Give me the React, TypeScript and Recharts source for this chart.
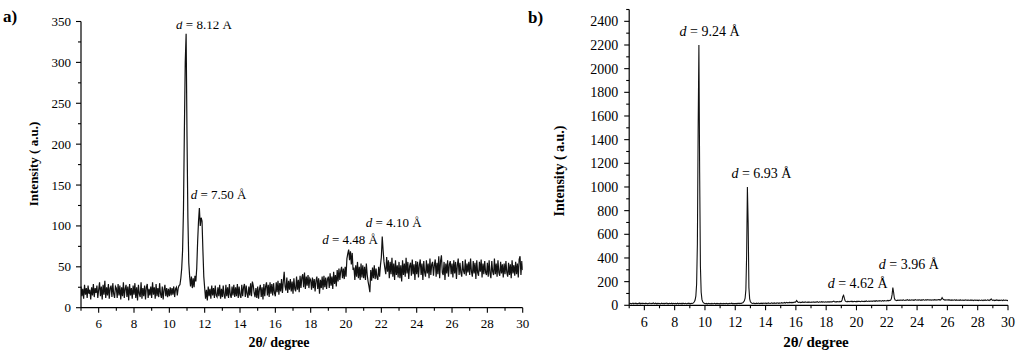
import React from 'react';
import { ComposedChart, Line, XAxis, YAxis, Scatter } from 'recharts';

// 2θ grid: 5.00 .. 30.00, step 0.05
const START = 5;
const STEP = 0.05;

// Panel a) intensities (a.u.), one row per degree (20 samples), last = 30.00
const intensityA: number[] = [
  26,14,23,11,28,16,24,12,27,17,22,10,25,15,29,13,24,18,27,12,
  22,31,14,26,10,28,16,33,12,25,15,29,11,24,27,13,30,17,12,26,
  24,12,29,15,27,10,25,14,31,12,23,28,13,26,9,29,15,24,11,27,
  16,30,12,25,9,28,17,13,31,11,24,14,27,10,25,29,12,23,15,26,
  12,31,16,25,11,29,14,24,13,30,17,12,26,10,22,28,14,24,13,23,
  14,25,15,24,16,26,13,23,25,15,24,27,28,36,48,70,120,215,300,335,
  210,110,55,38,26,38,24,36,25,39,32,48,80,105,122,100,110,106,70,38,
  24,11,22,9,26,14,23,11,27,15,24,12,27,15,13,25,14,28,11,23,
  13,27,15,11,28,14,25,12,29,16,12,26,15,28,13,25,14,29,12,26,
  15,12,28,14,25,29,13,27,17,12,26,15,30,14,32,27,18,13,24,12,
  26,11,23,28,13,25,10,29,14,26,31,15,28,13,31,17,29,15,30,18,
  14,31,19,33,16,30,20,35,18,32,44,26,21,37,18,33,22,35,20,32,
  17,36,23,20,38,22,34,19,39,24,37,41,25,43,23,38,27,40,24,36,
  34,22,37,24,35,20,33,38,23,36,17,34,24,38,22,39,25,37,23,35,
  38,24,42,27,38,23,44,29,40,26,46,32,48,34,45,50,36,48,35,50,
  38,60,66,71,58,69,53,67,46,49,34,52,38,56,36,50,34,54,37,52,
  36,50,34,54,40,32,26,19,46,33,49,36,52,35,48,37,34,50,38,52,
  62,87,70,56,48,41,62,44,58,36,56,41,61,38,54,34,58,40,52,37,
  56,36,52,32,58,40,54,38,61,42,56,35,51,55,39,59,41,53,34,57,
  41,56,37,52,59,40,54,34,57,43,38,58,42,54,36,60,40,53,56,39,
  52,59,38,55,41,63,36,57,64,43,40,56,34,54,42,58,38,53,57,41,
  54,37,58,42,56,35,52,60,40,55,43,38,57,45,41,59,39,54,43,56,
  40,60,44,38,57,42,55,35,58,43,39,56,44,59,37,54,41,57,43,40,
  55,38,58,42,36,57,44,40,60,41,54,38,58,43,39,56,42,53,37,54,
  41,57,43,38,55,40,53,36,58,42,52,39,56,41,54,37,59,63,40,57,
  46,
];

// Panel b) intensities (a.u.)
const intensityB: number[] = [
  18,14,17,12,16,19,13,15,18,14,16,12,17,15,19,13,16,18,14,17,
  15,13,18,16,12,17,14,19,15,13,17,16,20,14,15,18,13,16,14,17,
  16,12,15,18,14,17,13,16,15,19,14,16,12,17,15,14,18,13,16,15,
  14,17,13,16,18,12,15,17,14,16,13,18,15,14,17,16,12,15,18,14,
  16,13,17,15,18,22,30,45,80,180,520,1480,2200,1120,330,110,50,30,22,17,
  15,13,16,12,14,17,13,15,12,16,14,13,15,17,12,14,16,13,15,12,
  14,16,13,15,12,17,14,13,16,15,12,14,17,13,15,18,14,16,13,15,
  14,17,13,16,15,18,14,17,16,19,22,28,38,60,130,420,1000,700,150,55,
  30,22,18,16,19,15,17,14,18,16,15,19,14,17,16,18,15,19,16,17,
  18,15,19,16,20,17,15,18,21,16,19,17,20,18,16,21,19,17,20,18,
  19,22,18,21,20,24,19,22,25,21,23,20,26,22,24,21,25,23,27,24,
  30,40,32,26,24,27,23,26,25,28,24,27,25,29,26,24,28,25,27,26,
  25,28,26,29,24,27,28,26,30,27,25,29,28,26,30,27,29,28,26,30,
  28,27,30,29,27,31,28,30,29,33,36,30,28,31,29,32,30,28,33,31,
  32,45,75,85,60,38,32,30,33,31,34,30,32,35,31,33,30,34,32,31,
  33,31,35,32,34,30,33,36,32,34,31,35,33,37,34,32,36,33,35,34,
  36,33,38,35,37,34,39,36,35,38,36,40,37,35,39,38,36,40,38,37,
  39,41,38,42,40,44,55,90,150,110,60,45,42,40,43,41,44,42,45,43,
  44,42,46,43,41,45,43,47,44,42,46,44,43,47,45,42,46,44,48,45,
  43,46,44,47,45,42,46,44,48,45,43,47,46,44,48,45,47,43,46,44,
  45,47,44,48,46,43,47,45,49,46,48,44,52,65,55,48,46,44,47,45,
  46,43,47,44,45,42,46,44,43,47,45,42,46,44,43,45,42,46,44,43,
  45,42,44,41,46,43,45,42,44,43,41,45,42,44,40,43,45,42,44,41,
  43,40,44,42,41,45,43,40,44,42,45,41,43,46,42,44,41,50,54,45,
  42,44,40,43,41,45,42,44,39,43,41,44,42,40,45,43,41,44,42,40,
  42,
];

const xTicks = [5,6,7,8,9,10,11,12,13,14,15,16,17,18,19,20,21,22,23,24,25,26,27,28,29,30];
const xLabels = [6,8,10,12,14,16,18,20,22,24,26,28,30];
const yTicksA = [0,25,50,75,100,125,150,175,200,225,250,275,300,325,350];
const yLabelsA = [0,50,100,150,200,250,300,350];
const yTicksB = [0,100,200,300,400,500,600,700,800,900,1000,1100,1200,1300,1400,1500,1600,1700,1800,1900,2000,2100,2200,2300,2400,2500];
const yLabelsB = [0,200,400,600,800,1000,1200,1400,1600,1800,2000,2200,2400];

// d-spacing annotations (anchor at label centre / baseline, data coords)
const peakLabelsA = [
  { x: 11.96, y: 340.8, d: '8.12' },
  { x: 12.79, y: 132.9, d: '7.50' },
  { x: 20.23, y: 77.9, d: '4.48' },
  { x: 22.70, y: 98.7, d: '4.10' },
];
const peakLabelsB = [
  { x: 10.30, y: 2276, d: '9.24' },
  { x: 13.73, y: 1076, d: '6.93' },
  { x: 20.08, y: 146, d: '4.62' },
  { x: 23.45, y: 307, d: '3.96' },
];

const SERIF = '"Liberation Serif", "Times New Roman", Times, serif';

const toData = (vals: number[]) =>
  vals.map((v, i) => ({ x: Math.round((START + i * STEP) * 100) / 100, y: v }));

const dataA = toData(intensityA);
const dataB = toData(intensityB);

const makeYTick = (labels: number[], fontSize: number, gap: number) => (props: any) => {
  const { x, y, payload } = props;
  const major = labels.includes(payload.value);
  return (
    <g>
      <line x1={x} x2={x - (major ? 5 : 3)} y1={y} y2={y} stroke="#000" strokeWidth={1.1} />
      {major && (
        <text x={x - gap} y={y} dy="0.35em" textAnchor="end" fontSize={fontSize} fontFamily={SERIF} fill="#000">
          {payload.value}
        </text>
      )}
    </g>
  );
};

const makeXTick = (fontSize: number, off: number) => (props: any) => {
  const { x, y, payload } = props;
  const major = xLabels.includes(payload.value);
  return (
    <g>
      <line x1={x} x2={x} y1={y} y2={y + (major ? 5 : 3)} stroke="#000" strokeWidth={1.1} />
      {major && (
        <text x={x} y={y + off} textAnchor="middle" fontSize={fontSize} fontFamily={SERIF} fill="#000">
          {payload.value}
        </text>
      )}
    </g>
  );
};

const makeLabelShape = (fontSize: number) => (props: any) => {
  const { cx, cy, payload } = props;
  return (
    <text x={cx} y={cy} textAnchor="middle" fontSize={fontSize} fontFamily={SERIF} fill="#000">
      <tspan fontStyle="italic">d</tspan>
      {' = ' + payload.d + ' Å'}
    </text>
  );
};

const txt = (s: string, style: React.CSSProperties) => (
  <div
    style={{
      position: 'absolute',
      whiteSpace: 'nowrap',
      fontFamily: SERIF,
      fontWeight: 'bold',
      color: '#000',
      lineHeight: 1,
      ...style,
    }}
  >
    {s}
  </div>
);

export default function App() {
  return (
    <div style={{ position: 'absolute', left: 0, top: 0, width: 1024, height: 357, background: '#fff', overflow: 'hidden' }}>
      <div style={{ position: 'absolute', left: 0, top: 0 }}>
        <ComposedChart width={540} height={357} data={dataA} margin={{ top: 21.5, right: 17.3, bottom: 19.3, left: 0 }}>
          <XAxis
            dataKey="x"
            type="number"
            domain={[5, 30]}
            ticks={xTicks}
            interval={0}
            allowDataOverflow
            height={30}
            tickSize={0}
            tickMargin={0}
            tickLine={false}
            axisLine={{ stroke: '#000', strokeWidth: 1.2 }}
            tick={makeXTick(13, 20)}
          />
          <YAxis
            type="number"
            domain={[0, 350]}
            ticks={yTicksA}
            interval={0}
            allowDataOverflow
            width={81}
            tickSize={0}
            tickMargin={0}
            tickLine={false}
            axisLine={{ stroke: '#000', strokeWidth: 1.2 }}
            tick={makeYTick(yLabelsA, 13, 10)}
          />
          <Line dataKey="y" type="linear" dot={false} stroke="#111" strokeWidth={1.2} isAnimationActive={false} />
          <Scatter data={peakLabelsA} dataKey="y" shape={makeLabelShape(13)} isAnimationActive={false} />
        </ComposedChart>
      </div>
      <div style={{ position: 'absolute', left: 540, top: 0 }}>
        <ComposedChart width={484} height={357} data={dataB} margin={{ top: 9.5, right: 16, bottom: 21.7, left: 0 }}>
          <XAxis
            dataKey="x"
            type="number"
            domain={[5, 30]}
            ticks={xTicks}
            interval={0}
            allowDataOverflow
            height={30}
            tickSize={0}
            tickMargin={0}
            tickLine={false}
            axisLine={{ stroke: '#000', strokeWidth: 1.2 }}
            tick={makeXTick(14, 21.5)}
          />
          <YAxis
            type="number"
            domain={[0, 2500]}
            ticks={yTicksB}
            interval={0}
            allowDataOverflow
            width={89.2}
            tickSize={0}
            tickMargin={0}
            tickLine={false}
            axisLine={{ stroke: '#000', strokeWidth: 1.2 }}
            tick={makeYTick(yLabelsB, 14, 11)}
          />
          <Line dataKey="y" type="linear" dot={false} stroke="#111" strokeWidth={1.1} isAnimationActive={false} />
          <Scatter data={peakLabelsB} dataKey="y" shape={makeLabelShape(14)} isAnimationActive={false} />
        </ComposedChart>
      </div>
      {txt('a)', { left: 3, top: 8, fontSize: 17 })}
      {txt('b)', { left: 528, top: 9, fontSize: 17 })}
      {txt('2θ/ degree', { left: 279, top: 343, fontSize: 14, transform: 'translate(-50%, -50%)' })}
      {txt('2θ/ degree', { left: 816, top: 342, fontSize: 15, transform: 'translate(-50%, -50%)' })}
      {txt('Intensity ( a.u.)', { left: 32.5, top: 164, fontSize: 13, transform: 'translate(-50%, -50%) rotate(-90deg)' })}
      {txt('Intensity ( a.u.)', { left: 559.5, top: 171, fontSize: 14, transform: 'translate(-50%, -50%) rotate(-90deg)' })}
    </div>
  );
}
